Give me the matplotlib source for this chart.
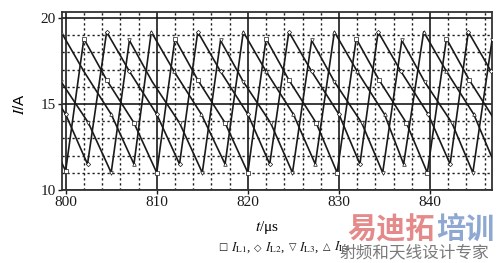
import matplotlib
matplotlib.use('Agg')
import matplotlib.pyplot as plt
from matplotlib.offsetbox import TextArea, HPacker, AnnotationBbox

plt.rcParams['font.family'] = ['Liberation Serif', 'DejaVu Sans']
plt.rcParams['mathtext.fontset'] = 'stix'

# ---- data: vertices of the four inductor currents (t in us, I in A) ----
t_L1 = [797.5, 800.0, 802.0, 804.5, 807.5, 810.0, 812.0, 814.5, 817.5, 820.0, 822.0,
        824.5, 827.5, 829.8, 831.9, 834.4, 837.4, 839.7, 841.8, 844.3, 847.3]
i_L1 = [13.9, 11.1, 18.8, 16.4, 13.9, 11.0, 18.8, 16.4, 13.9, 11.0, 18.8,
        16.4, 13.9, 11.0, 18.8, 16.4, 13.9, 11.0, 18.8, 16.4, 13.9]

t_L2 = [797.0, 800.0, 802.4, 804.5, 807.0, 810.0, 812.5, 814.5, 817.0, 820.0, 822.4,
        824.5, 827.0, 830.0, 832.3, 834.3, 836.8, 839.8, 842.2, 844.2, 846.7, 849.7]
i_L2 = [16.9, 14.4, 11.5, 19.2, 16.9, 14.4, 11.5, 19.2, 16.9, 14.4, 11.5,
        19.2, 16.9, 14.4, 11.5, 19.2, 16.9, 14.4, 11.5, 19.2, 16.9, 14.4]

t_L3 = [797.0, 799.5, 802.5, 805.0, 807.0, 809.5, 812.5, 815.0, 817.0, 819.5, 822.5,
        824.9, 827.0, 829.5, 832.5, 834.8, 836.9, 839.4, 842.4, 844.7, 846.8, 849.3]
i_L3 = [18.7, 16.3, 13.9, 11.0, 18.7, 16.3, 13.9, 11.0, 18.7, 16.3, 13.9,
        11.0, 18.7, 16.3, 13.9, 11.0, 18.7, 16.3, 13.9, 11.0, 18.7, 16.3]

t_L4 = [797.5, 799.5, 802.0, 805.0, 807.5, 809.4, 811.9, 814.9, 817.5, 819.5, 822.0,
        825.0, 827.4, 829.5, 832.0, 835.0, 837.1, 839.3, 841.8, 844.8, 847.1]
i_L4 = [11.5, 19.2, 16.9, 14.4, 11.5, 19.2, 16.9, 14.4, 11.5, 19.2, 16.9,
        14.4, 11.5, 19.2, 16.9, 14.4, 11.5, 19.2, 16.9, 14.4, 11.5]

x_major = [800, 810, 820, 830, 840]
x_minor = [802, 804, 806, 808, 812, 814, 816, 818, 822, 824, 826, 828,
           832, 834, 836, 838, 842, 844, 846]
y_major = [10, 15, 20]
y_minor = [11, 12, 13, 14, 16, 17, 18, 19]

legend_symbols = ['□', '◇', '▽', '△']
legend_names = [r'$I_{\rm L1}$,', r'$I_{\rm L2}$,', r'$I_{\rm L3}$,', r'$I_{\rm L4}$']

series = [(t_L1, i_L1, 's'), (t_L2, i_L2, 'D'), (t_L3, i_L3, 'v'), (t_L4, i_L4, '^')]

fig = plt.figure(figsize=(5.0, 2.63), dpi=100)
ax = fig.add_axes([0.124, 0.278, 0.86, 0.676])

for t, i, m in series:
    ax.plot(t, i, color='#1a1a1a', lw=1.2, marker=m, ms=2.6 if m != 'D' else 2.2,
            mfc='white', mec='#1a1a1a', mew=0.5, markevery=0.11, zorder=3)

ax.set_xlim(799.6, 846.8)
ax.set_ylim(10, 20.35)
ax.set_xticks(x_major)
ax.set_xticks(x_minor, minor=True)
ax.set_yticks(y_major)
ax.set_yticks(y_minor, minor=True)
ax.grid(which='major', color='#1a1a1a', lw=1.2, ls='-', zorder=1)
ax.grid(which='minor', color='#1a1a1a', lw=1.0, ls=(0, (1.6, 2.0)), zorder=1)
ax.tick_params(which='major', direction='out', length=3, width=1, labelsize=11,
               pad=1.5, colors='#1a1a1a')
ax.tick_params(which='minor', length=0)
for sp in ax.spines.values():
    sp.set_linewidth(1.3)
    sp.set_color('#333333')

fig.text(20 / 500, 1 - 104 / 263, r'$I$/A', rotation=90, ha='center', va='center',
         fontsize=11, family=['Liberation Sans'])
fig.text(267 / 500, 1 - 227 / 263, r'$t$/μs', ha='center', va='center', fontsize=11)

# legend line built from pieces
pieces = []
for sym, name in zip(legend_symbols, legend_names):
    pieces.append(TextArea(sym, textprops=dict(fontsize=7, family=['DejaVu Sans'],
                                               color='#1a1a1a')))
    pieces.append(TextArea(name, textprops=dict(fontsize=9.5, color='#1a1a1a')))
pack = HPacker(children=pieces, align='baseline', pad=0, sep=2.5)
ab = AnnotationBbox(pack, (218 / 500, 1 - 247 / 263), xycoords='figure fraction',
                    box_alignment=(0, 0.5), frameon=False, pad=0)
fig.add_artist(ab)

# watermark
fig.text(347 / 500, 1 - 229 / 263, '易迪拓', color='#e58a8a', fontsize=21,
         family=['Noto Sans CJK SC'], weight='bold', ha='left', va='center', zorder=5)
fig.text(436 / 500, 1 - 229 / 263, '培训', color='#8fa8d2', fontsize=21,
         family=['Noto Sans CJK SC'], weight='bold', ha='left', va='center', zorder=5)
fig.text(340 / 500, 1 - 253 / 263, '射频和天线设计专家', color='#7a7a7a', fontsize=12,
         family=['Noto Sans CJK SC'], ha='left', va='center', zorder=5)

fig.savefig('out.png', dpi=100)
